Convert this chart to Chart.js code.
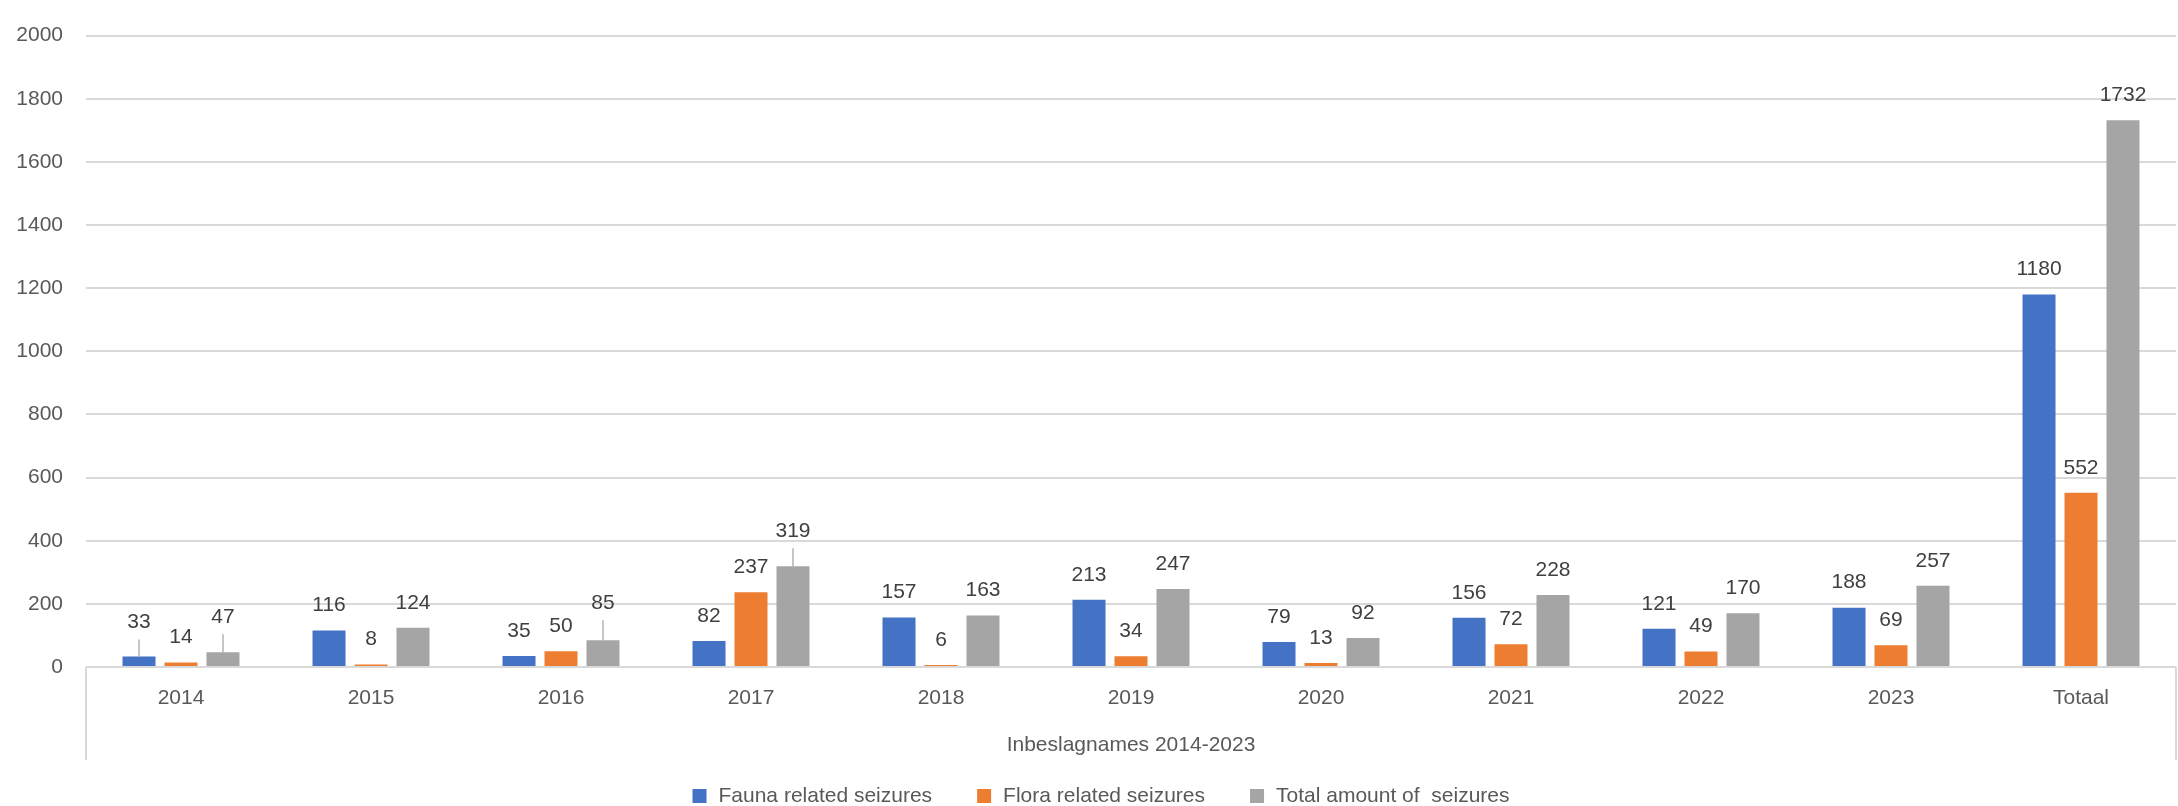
<!DOCTYPE html>
<html>
<head>
<meta charset="utf-8">
<script src="https://cdn.jsdelivr.net/npm/chart.js@4/dist/chart.umd.min.js"></script>
<style>
  html, body { margin: 0; padding: 0; background: #fff; }
  #wrap { width: 2178px; height: 806px; }
</style>
</head>
<body>
<div id="wrap"><canvas id="seizures" width="2178" height="806"></canvas></div>
<script>
// ── Data ──────────────────────────────────────────────────────────────────────
const years  = ['2014', '2015', '2016', '2017', '2018', '2019', '2020', '2021', '2022', '2023', 'Totaal'];
const fauna  = [33, 116, 35, 82, 157, 213, 79, 156, 121, 188, 1180];
const flora  = [14, 8, 50, 237, 6, 34, 13, 72, 49, 69, 552];
const total  = [47, 124, 85, 319, 163, 247, 92, 228, 170, 257, 1732];
const seriesNames = ['Fauna related seizures', 'Flora related seizures', 'Total amount of  seizures'];
const groupLabel = 'Inbeslagnames 2014-2023';
const yMax = 2000;
const yStep = 200;

// ── Style ─────────────────────────────────────────────────────────────────────
const FONT = '"Liberation Sans", Arial, sans-serif';
const COLORS = ['#4472C4', '#ED7D31', '#A5A5A5'];
const GRID = '#D9D9D9';
const TEXT = '#595959';

// labels that were dragged up in the original get a leader line
const labelLift = { '0-0': 34, '2-0': 35, '2-2': 37, '2-3': 35 };

const extras = {
  id: 'extras',
  afterDatasetsDraw(chart, args, opts) {
    const ctx = chart.ctx;
    ctx.save();
    ctx.font = '21px ' + FONT;
    ctx.textAlign = 'center';
    ctx.textBaseline = 'middle';
    chart.data.datasets.forEach((ds, di) => {
      const meta = chart.getDatasetMeta(di);
      meta.data.forEach((bar, i) => {
        const lift = opts.lifts[di + '-' + i] || opts.defaultLift;
        const y = bar.y - lift;
        if (lift > opts.defaultLift) {
          ctx.strokeStyle = '#A6A6A6';
          ctx.lineWidth = 1.3;
          ctx.beginPath();
          ctx.moveTo(bar.x, bar.y);
          ctx.lineTo(bar.x, y + 17);
          ctx.stroke();
        }
        ctx.fillStyle = '#404040';
        ctx.fillText(String(ds.data[i]), bar.x, y);
      });
    });
    ctx.restore();
  },
  afterDraw(chart) {
    const ctx = chart.ctx;
    const { left, right, bottom } = chart.chartArea;
    ctx.save();

    // multi-level axis box sides
    ctx.strokeStyle = GRID;
    ctx.lineWidth = 2;
    ctx.beginPath();
    ctx.moveTo(left, bottom);
    ctx.lineTo(left, bottom + 93);
    ctx.moveTo(right, bottom);
    ctx.lineTo(right, bottom + 93);
    ctx.stroke();

    // group label
    ctx.font = '21px ' + FONT;
    ctx.fillStyle = TEXT;
    ctx.textAlign = 'center';
    ctx.textBaseline = 'middle';
    ctx.fillText(groupLabel, (left + right) / 2, bottom + 78);

    // legend
    const box = 14, gapText = 12, gapItem = 45;
    const items = chart.data.datasets.map(ds => ({
      text: ds.label, color: ds.backgroundColor, w: ctx.measureText(ds.label).width
    }));
    const totalW = items.reduce((s, it) => s + box + gapText + it.w, 0) + gapItem * (items.length - 1);
    let x = chart.width / 2 + 12 - totalW / 2;
    const ly = 796;
    ctx.textAlign = 'left';
    items.forEach(it => {
      ctx.fillStyle = it.color;
      ctx.fillRect(x, ly - box / 2, box, box);
      ctx.fillStyle = TEXT;
      ctx.fillText(it.text, x + box + gapText, ly);
      x += box + gapText + it.w + gapItem;
    });
    ctx.restore();
  }
};

// ── Chart ─────────────────────────────────────────────────────────────────────
const seriesValues = [fauna, flora, total];
new Chart(document.getElementById('seizures'), {
  type: 'bar',
  data: {
    labels: years,
    datasets: seriesValues.map((vals, i) => ({
      label: seriesNames[i],
      data: vals,
      backgroundColor: COLORS[i],
      borderWidth: 0,
      categoryPercentage: 0.663,
      barPercentage: 0.786
    }))
  },
  options: {
    responsive: false,
    animation: false,
    devicePixelRatio: 1,
    layout: { padding: { top: 20, right: 2, bottom: 0, left: 0 } },
    plugins: {
      legend: { display: false },
      tooltip: { enabled: false },
      extras: { lifts: labelLift, defaultLift: 25 }
    },
    scales: {
      x: {
        grid: { display: false, drawTicks: false },
        border: { display: false },
        ticks: { color: TEXT, font: { family: FONT, size: 21 }, padding: 19, maxRotation: 0 },
        afterFit: s => { s.height = 139; }
      },
      y: {
        min: 0,
        max: yMax,
        grid: { color: GRID, lineWidth: 2, drawTicks: false },
        border: { display: false },
        ticks: {
          stepSize: yStep, color: TEXT, font: { family: FONT, size: 21 }, padding: 23,
          callback: v => String(v)
        },
        afterFit: s => { s.width = 86; }
      }
    }
  },
  plugins: [extras]
});
</script>
</body>
</html>
